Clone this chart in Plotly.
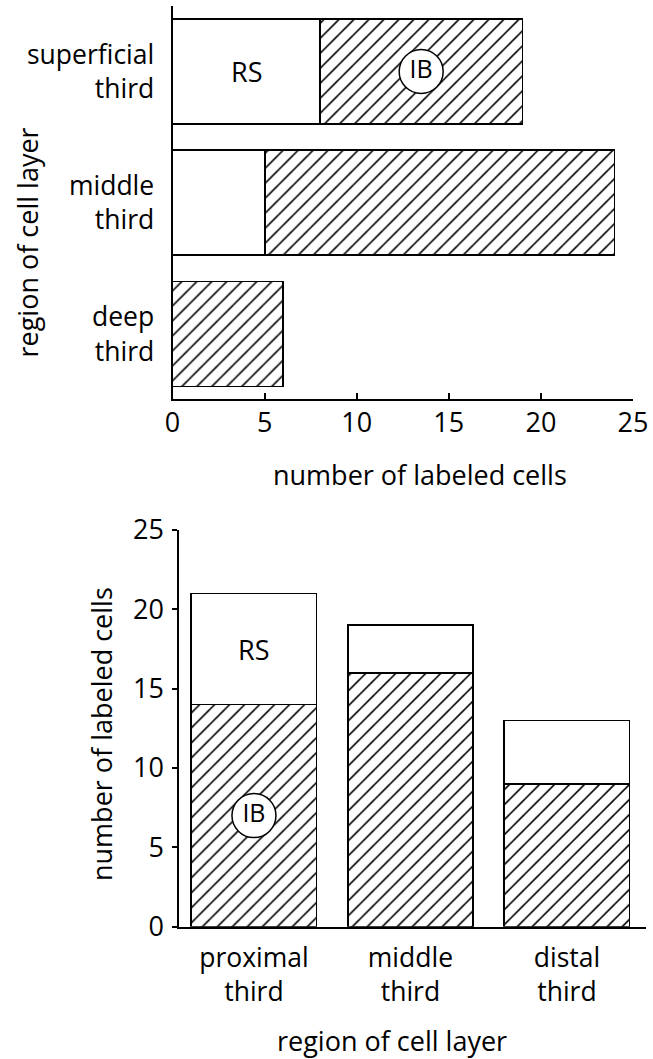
import plotly.graph_objects as go

# ---------------- data ----------------
# Top panel: position across the depth of the cell layer (horizontal stacked bars)
depth_regions = ["superficial third", "middle third", "deep third"]
depth_rs = [8, 5, 0]
depth_ib = [11, 19, 6]

# Bottom panel: position along the proximal-distal axis (vertical stacked bars)
axial_regions = ["proximal third", "middle third", "distal third"]
axial_ib = [14, 16, 9]
axial_rs = [7, 3, 4]

count_ticks = [0, 5, 10, 15, 20, 25]

# ---------------- style ----------------
W, H = 653, 1059
FONT = "Open Sans"
TICK_SIZE = 27
CAT_SIZE = 26.5
TITLE_SIZE = 27
OUTLINE = dict(color="black", width=1.8)
HATCH = dict(shape="/", size=10.6, solidity=0.15, fgcolor="black",
             fgopacity=1, bgcolor="white", fillmode="overlay")


def two_line(labels):
    return [lab.replace(" ", "<br>") for lab in labels]


fig = go.Figure()

# top panel bars: RS (open) first, IB (hatched) stacked after
fig.add_trace(go.Bar(
    y=depth_regions, x=depth_rs, orientation="h", name="RS",
    xaxis="x", yaxis="y",
    marker=dict(color="white", line=OUTLINE),
))
fig.add_trace(go.Bar(
    y=depth_regions, x=depth_ib, orientation="h", name="IB",
    xaxis="x", yaxis="y",
    marker=dict(color="white", line=OUTLINE, pattern=HATCH),
))

# bottom panel bars: IB (hatched) at the base, RS (open) on top
fig.add_trace(go.Bar(
    x=axial_regions, y=axial_ib, name="IB",
    xaxis="x2", yaxis="y2",
    marker=dict(color="white", line=OUTLINE, pattern=HATCH),
))
fig.add_trace(go.Bar(
    x=axial_regions, y=axial_rs, name="RS",
    xaxis="x2", yaxis="y2",
    marker=dict(color="white", line=OUTLINE),
))

# circled "IB" labels, centred in the IB segment of the first bar of each panel
circle = dict(size=44, color="white", line=dict(color="black", width=1.5))
fig.add_trace(go.Scatter(
    x=[depth_rs[0] + depth_ib[0] / 2], y=[depth_regions[0]],
    xaxis="x", yaxis="y", mode="markers+text", text=["IB"],
    textposition="middle center", marker=circle, hoverinfo="skip",
    textfont=dict(family=FONT, size=25, color="black"), cliponaxis=False,
))
fig.add_trace(go.Scatter(
    x=[axial_regions[0]], y=[axial_ib[0] / 2],
    xaxis="x2", yaxis="y2", mode="markers+text", text=["IB"],
    textposition="middle center", marker=circle, hoverinfo="skip",
    textfont=dict(family=FONT, size=25, color="black"), cliponaxis=False,
))

annotations = [
    # "RS" labels centred in the RS segment
    dict(text="RS", x=depth_rs[0] / 2, y=depth_regions[0], xref="x", yref="y",
         showarrow=False, font=dict(family=FONT, size=27, color="black")),
    dict(text="RS", x=axial_regions[0], y=axial_ib[0] + axial_rs[0] / 2,
         xref="x2", yref="y2", showarrow=False,
         font=dict(family=FONT, size=27, color="black")),
    # axis titles
    dict(text="number of labeled cells", x=420 / W, y=1 - 474 / H,
         xref="paper", yref="paper", showarrow=False,
         xanchor="center", yanchor="middle",
         font=dict(family=FONT, size=TITLE_SIZE, color="black")),
    dict(text="region of cell layer", x=27 / W, y=1 - 242.5 / H,
         xref="paper", yref="paper", showarrow=False, textangle=-90,
         xanchor="center", yanchor="middle",
         font=dict(family=FONT, size=TITLE_SIZE, color="black")),
    dict(text="number of labeled cells", x=101 / W, y=1 - 734 / H,
         xref="paper", yref="paper", showarrow=False, textangle=-90,
         xanchor="center", yanchor="middle",
         font=dict(family=FONT, size=TITLE_SIZE, color="black")),
    dict(text="region of cell layer", x=392 / W, y=1 - 1040 / H,
         xref="paper", yref="paper", showarrow=False,
         xanchor="center", yanchor="middle",
         font=dict(family=FONT, size=TITLE_SIZE, color="black")),
]

axis_common = dict(showgrid=False, zeroline=False, showline=True,
                   linecolor="black", linewidth=2, automargin=False)

fig.update_layout(
    template="none",
    width=W, height=H, autosize=False,
    margin=dict(l=0, r=0, t=0, b=0, pad=0, autoexpand=False),
    paper_bgcolor="white", plot_bgcolor="white",
    barmode="stack", bargap=0.2, showlegend=False,
    font=dict(family=FONT, color="black"),
    annotations=annotations,
    xaxis=dict(domain=[172.5 / W, 633 / W], anchor="y", range=[0, 25],
               tickvals=count_ticks, ticks="inside", ticklen=6, tickwidth=1.5,
               tickcolor="black", ticklabelstandoff=-1,
               tickfont=dict(family=FONT, size=TICK_SIZE, color="black"),
               **axis_common),
    yaxis=dict(domain=[1 - 399 / H, 1 - 6 / H], anchor="x", type="category",
               categoryorder="array", categoryarray=depth_regions,
               range=[2.495, -0.499], tickvals=depth_regions,
               ticktext=two_line(depth_regions), ticks="",
               ticklabelstandoff=11,
               tickfont=dict(family=FONT, size=CAT_SIZE, color="black"),
               **axis_common),
    xaxis2=dict(domain=[179.3 / W, 646.3 / W], anchor="y2", type="category",
                categoryorder="array", categoryarray=axial_regions,
                range=[-0.477, 2.507], tickvals=axial_regions,
                ticktext=two_line(axial_regions), ticks="",
                ticklabelstandoff=6,
                tickfont=dict(family=FONT, size=CAT_SIZE, color="black"),
                **axis_common),
    yaxis2=dict(domain=[1 - 926.7 / H, 1 - 530 / H], anchor="x2", range=[0, 25],
                tickvals=count_ticks, ticks="outside", ticklen=5, tickwidth=1.5,
                tickcolor="black", ticklabelstandoff=3,
                tickfont=dict(family=FONT, size=TICK_SIZE, color="black"),
                **axis_common),
)

fig.write_html("out.html", config={"displayModeBar": False},
               post_script="document.body.style.margin = '0px';")
